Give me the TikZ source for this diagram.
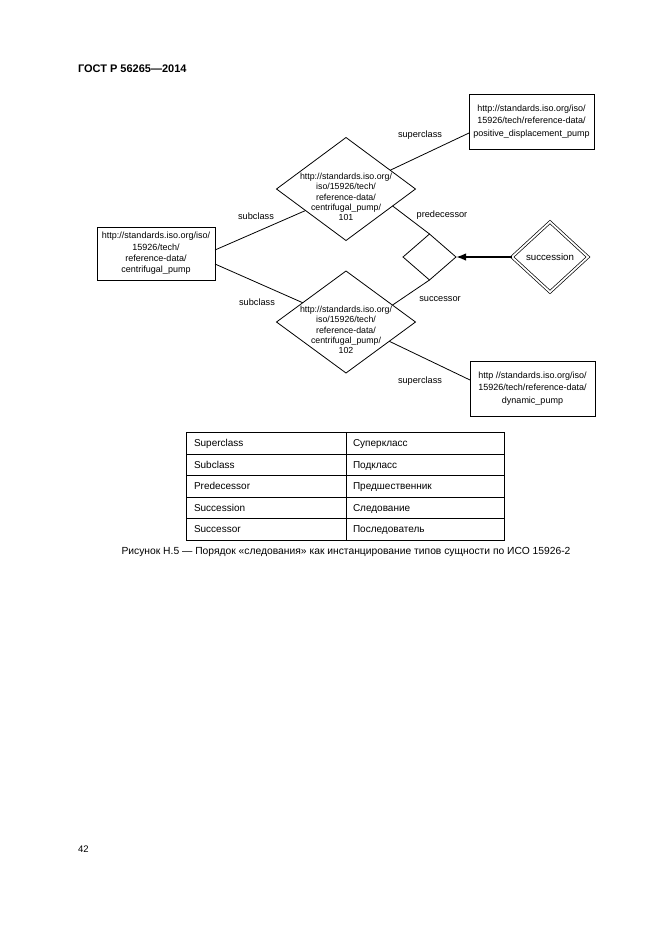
\documentclass[tikz,border=0pt]{standalone}
\usepackage{fontspec}
\setmainfont{Liberation Sans}
\usetikzlibrary{shapes.geometric,arrows.meta}
\begin{document}
\begin{tikzpicture}[x=1pt,y=-1pt,
  every node/.style={inner sep=0pt, outer sep=0pt},
  dtxt/.style={font=\fontsize{8.8}{10.2}\selectfont, align=center},
  lbl/.style={font=\fontsize{9.2}{11}\selectfont},
  urlbox/.style={draw, line width=0.8pt, minimum width=125pt, minimum height=55pt, align=center, font=\fontsize{9}{12.3}\selectfont},
  rel/.style={draw, diamond, line width=0.8pt},
  conn/.style={line width=0.8pt},
  tcell/.style={font=\fontsize{10}{12}\selectfont, anchor=base west},
  tline/.style={line width=0.9pt}
]
\useasboundingbox (0,0) rectangle (661,935);
\fill[white] (0,0) rectangle (661,935);

% header
\node[font=\fontsize{11}{13}\selectfont\bfseries, anchor=west] (hdr) at (78,69) {ГОСТ Р 56265—2014};

% boxes
\node[urlbox] (tr) at (531.5,121.5) {\rule{0pt}{4pt}http://standards.iso.org/iso/\\15926/tech/reference-data/\\positive\_displacement\_pump};
\node[urlbox] (br) at (532.5,388.5) {\rule{0pt}{4pt}http //standards.iso.org/iso/\\15926/tech/reference-data/\\dynamic\_pump};
\node[urlbox, minimum width=118pt, minimum height=53pt, font=\fontsize{9}{11.4}\selectfont] (lb) at (156,253.5) {http://standards.iso.org/iso/\\15926/tech/\\reference-data/\\centrifugal\_pump};

% diamonds
\node[rel, minimum width=139pt, minimum height=103pt] (d1) at (346,189) {};
\node[dtxt] (d1t) at (346,197) {http://standards.iso.org/\\iso/15926/tech/\\reference-data/\\centrifugal\_pump/\\101};
\node[rel, minimum width=139pt, minimum height=102pt] (d2) at (346,322) {};
\node[dtxt] (d2t) at (346,330) {http://standards.iso.org/\\iso/15926/tech/\\reference-data/\\centrifugal\_pump/\\102};
\node[rel, minimum width=53pt, minimum height=46pt] (sd) at (429.5,257) {};
\node[rel, double, double distance=1.8pt, line width=0.7pt, minimum width=76pt, minimum height=70pt] (sc) at (550,257) {};
\node[font=\fontsize{9.7}{11}\selectfont] (sct) at (550,257) {succession};

% connectors
\draw[conn] ([yshift=3.5pt]lb.east) -- (d1.208);
\draw[conn] ([yshift=-10.5pt]lb.east) -- (d2.156);
\draw[conn] (d1.23) -- ([yshift=-11.5pt]tr.west);
\draw[conn] (d1.-20) -- (sd.north);
\draw[conn] (sd.south) -- (d2.20);
\draw[conn] (d2.-24) -- ([yshift=8.5pt]br.west);
\draw[line width=1.6pt, -{Latex[length=10pt,width=7.5pt]}] (sc.west) -- (sd.east);

% labels
\node[lbl] (l1) at (420,135) {superclass};
\node[lbl] (l2) at (256,216) {subclass};
\node[lbl] (l3) at (442,215) {predecessor};
\node[lbl] (l4) at (440,299) {successor};
\node[lbl] (l5) at (257,302) {subclass};
\node[lbl] (l6) at (420,381) {superclass};

% table
\draw[tline] (186,432) rectangle (504,540);
\foreach \yy in {454,475.5,497,518.5} \draw[tline] (186,\yy) -- (504,\yy);
\draw[tline] (346,432) -- (346,540);
\node[tcell] (a1) at (194,446.5) {Superclass};
\node[tcell] (a2) at (194,468) {Subclass};
\node[tcell] (a3) at (194,489.5) {Predecessor};
\node[tcell] (a4) at (194,511) {Succession};
\node[tcell] (a5) at (194,532.5) {Successor};
\node[tcell] (b1) at (353,446.5) {Суперкласс};
\node[tcell] (b2) at (353,468) {Подкласс};
\node[tcell] (b3) at (353,489.5) {Предшественник};
\node[tcell] (b4) at (353,511) {Следование};
\node[tcell] (b5) at (353,532.5) {Последователь};

% caption
\node[font=\fontsize{10.3}{12}\selectfont] (cap) at (346,552) {Рисунок Н.5 — Порядок «следования» как инстанцирование типов сущности по ИСО 15926-2};

% page number
\node[font=\fontsize{9.5}{11}\selectfont, anchor=west] (pg) at (78,849) {42};
\end{tikzpicture}
\end{document}
